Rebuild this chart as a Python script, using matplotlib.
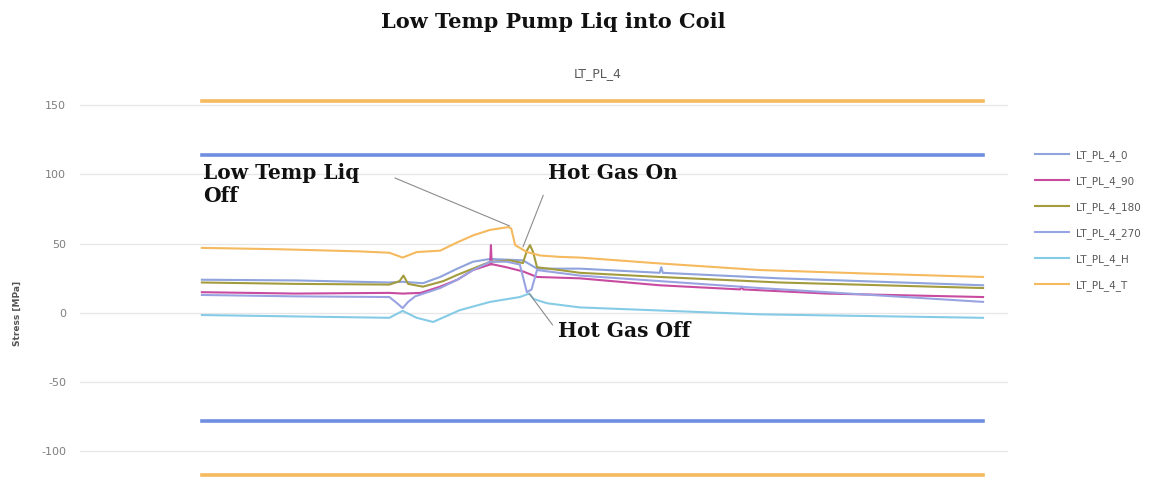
import matplotlib
matplotlib.use('Agg')
import matplotlib.pyplot as plt

plt.rcParams['axes.unicode_minus'] = False

# time axis is arbitrary (0..100 over the recorded span)
t_T = [0, 10, 20, 24, 25.7, 27.5, 30.5, 32.7, 34.7, 36.9, 39.2, 39.6, 40.1, 41.6, 43.3, 45.8, 48.4, 58, 71.4, 85, 100]
v_T = [47, 46, 44.5, 43.5, 40, 44, 45, 51, 56, 60, 62, 61, 49, 44, 41.5, 40.5, 40, 36, 31, 28.5, 26]

t_180 = [0, 12, 24, 25.3, 25.8, 26.4, 28.3, 30.9, 32.7, 34.7, 36.9, 39.4, 41.1, 41.6, 42.0, 42.4, 42.9, 45.8, 48.4, 58.6, 74, 100]
v_180 = [22, 21, 20.5, 23, 27, 21, 19, 23, 27.5, 32, 37, 38, 36, 45, 49, 44, 33, 31, 29, 26, 22, 18]

t_90 = [0, 12, 24, 25.7, 28, 30.5, 32.7, 34.7, 36.9, 37.0, 37.1, 37.3, 39, 41.1, 42.9, 48.4, 58.6, 68.9, 69.1, 69.3, 80, 100]
v_90 = [15, 14, 14.5, 14, 14.5, 19, 24, 31, 35, 49, 35, 35, 33, 30, 26, 25, 20, 17, 19, 17, 14, 11.5]

t_0 = [0, 12, 24, 25.7, 28.3, 30.5, 32.7, 34.7, 36.9, 41.1, 42.9, 48.4, 58.6, 58.8, 59.0, 74, 100]
v_0 = [24, 23.5, 22, 22.5, 21.5, 26, 32, 37, 39, 38, 32, 32, 29, 33, 29, 25, 20]

t_270 = [0, 12, 24, 25.0, 25.7, 26.4, 27.3, 30.5, 32.7, 34.7, 36.9, 39, 40.7, 41.6, 42.2, 42.9, 48.4, 71.4, 100]
v_270 = [13, 12, 11.5, 7, 3.5, 8, 12, 18, 24, 31, 37, 37, 35, 15, 17, 31, 27, 18, 8]

t_H = [0, 12, 24, 25.7, 27.5, 29.6, 33, 36.9, 40.7, 41.9, 42.5, 44.2, 48.4, 71.4, 100]
v_H = [-1.5, -2.5, -3.5, 1.5, -3.5, -6.5, 2, 8, 11.5, 14, 10, 7, 4, -1, -3.5]

# allowable stress limits
limits_T = [153, -117]
limits_other = [114, -78]

labels = ['LT_PL_4_0', 'LT_PL_4_90', 'LT_PL_4_180', 'LT_PL_4_270', 'LT_PL_4_H', 'LT_PL_4_T']
colors = ['#8FA3DC', '#C84BA0', '#A39C3E', '#9AA3E2', '#86CBE6', '#F5B95E']
yticks = [150, 100, 50, 0, -50, -100]


def main():
    fig = plt.figure(figsize=(11.7, 4.78), dpi=100)
    ax = fig.add_axes([0.0684, 0.0005, 0.7932, 0.8083])

    series = [(t_0, v_0), (t_90, v_90), (t_180, v_180), (t_270, v_270), (t_H, v_H), (t_T, v_T)]
    handles = []
    for (t, v), lab, c in zip(series, labels, colors):
        h, = ax.plot(t, v, color=c, lw=1.5, label=lab)
        handles.append(h)

    for y in limits_T:
        ax.plot([0, 100], [y, y], color='#F5B95E', lw=2.6)
    for y in limits_other:
        ax.plot([0, 100], [y, y], color='#6E8FE0', lw=2.6)

    ax.set_xlim(-15.6, 103.2)
    ax.set_ylim(-119, 160)
    ax.set_yticks(yticks)
    ax.set_xticks([])
    ax.grid(axis='y', color='#E6E6E6', lw=0.9)
    ax.set_axisbelow(True)
    for s in ax.spines.values():
        s.set_visible(False)
    ax.tick_params(axis='y', length=0, pad=10, labelsize=8, labelcolor='#7F7F7F')

    fig.text(0.0145, 0.345, 'Stress [MPa]', rotation=90, ha='center', va='center',
             fontsize=6.5, fontweight='bold', color='#555555')

    fig.text(0.473, 0.955, 'Low Temp Pump Liq into Coil', ha='center', va='center',
             family='DejaVu Serif', fontweight='bold', fontsize=15, color='#111111')
    fig.text(0.511, 0.847, 'LT_PL_4', ha='center', va='center', fontsize=9, color='#595959')

    note = dict(family='DejaVu Serif', fontweight='bold', fontsize=14.5, color='#111111')
    lead = dict(arrowstyle='-', color='#8C8C8C', lw=0.8, shrinkA=0, shrinkB=0)
    ax.text(0.1, 108, 'Low Temp Liq\nOff', va='top', ha='left', linespacing=1.15, **note)
    ax.annotate('', xy=(39.4, 62.8), xytext=(24.7, 97.5), arrowprops=lead)
    ax.text(44.3, 108.5, 'Hot Gas On', va='top', ha='left', **note)
    ax.annotate('', xy=(41.1, 47.7), xytext=(43.7, 85), arrowprops=lead)
    ax.text(45.6, -6, 'Hot Gas Off', va='top', ha='left', **note)
    ax.annotate('', xy=(41.9, 14), xytext=(44.9, -8.7), arrowprops=lead)

    fig.legend(handles=handles, loc='upper left', bbox_to_anchor=(0.8846, 0.687),
               frameon=False, fontsize=7.5, labelcolor='#595959', handlelength=3.3,
               handletextpad=0.6, labelspacing=1.45, borderpad=0, borderaxespad=0)

    fig.savefig('out.png', dpi=100)


if __name__ == '__main__':
    main()
